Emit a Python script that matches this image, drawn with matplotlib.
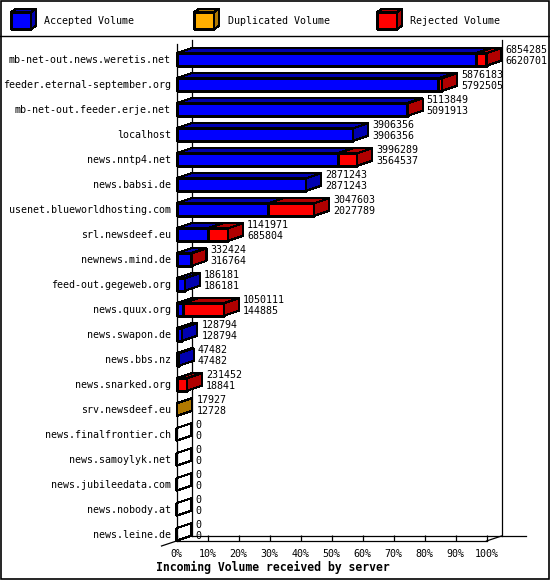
import matplotlib
matplotlib.use("Agg")
import matplotlib.pyplot as plt
from matplotlib.patches import Polygon, Rectangle

servers = ["mb-net-out.news.weretis.net", "feeder.eternal-september.org",
           "mb-net-out.feeder.erje.net", "localhost", "news.nntp4.net",
           "news.babsi.de", "usenet.blueworldhosting.com", "srl.newsdeef.eu",
           "newnews.mind.de", "feed-out.gegeweb.org", "news.quux.org",
           "news.swapon.de", "news.bbs.nz", "news.snarked.org", "srv.newsdeef.eu",
           "news.finalfrontier.ch", "news.samoylyk.net", "news.jubileedata.com",
           "news.nobody.at", "news.leine.de"]
total_vol = [6854285, 5876183, 5113849, 3906356, 3996289, 2871243, 3047603,
             1141971, 332424, 186181, 1050111, 128794, 47482, 231452, 17927,
             0, 0, 0, 0, 0]
accepted_vol = [6620701, 5792505, 5091913, 3906356, 3564537, 2871243, 2027789,
                685804, 316764, 186181, 144885, 128794, 47482, 18841, 12728,
                0, 0, 0, 0, 0]
duplicated_vol = [0, 0, 0, 0, 0, 0, 0, 0, 0, 0, 0, 0, 0, 0, 5199,
                  0, 0, 0, 0, 0]
rejected_vol = [233584, 83678, 21936, 0, 431752, 0, 1019814, 456167, 15660, 0,
                905226, 0, 0, 212611, 0, 0, 0, 0, 0, 0]
x_ticks = [0, 10, 20, 30, 40, 50, 60, 70, 80, 90, 100]
legend_names = ["Accepted Volume", "Duplicated Volume", "Rejected Volume"]

# front / shaded colours
blue = ("#0000ff", "#0000b0")
orange = ("#ffae00", "#b07800")
red = ("#ff0000", "#b00000")

MONO = "DejaVu Sans Mono"
W, H = 550, 580
fig = plt.figure(figsize=(W / 100, H / 100), dpi=100)
fig.patch.set_facecolor("white")

# overlay in pixel coords for frame + legend
ov = fig.add_axes([0, 0, 1, 1])
ov.set_xlim(0, W)
ov.set_ylim(H, 0)
ov.axis("off")
ov.add_patch(Rectangle((0.5, 0.5), W - 1.5, H - 1.5, fill=False, ec="black", lw=1.2))
ov.plot([0, W], [36, 36], color="black", lw=1.0)
for k, (nm, col) in enumerate(zip(legend_names, [blue, orange, red])):
    lx = 11 + 183 * k
    fx0, fx1, fy0, fy1 = lx, lx + 20, 12, 29
    ov.add_patch(Polygon([(fx0, fy0), (fx1, fy0), (fx1, fy1), (fx0, fy1)],
                         fc=col[0], ec="black", lw=0.8, antialiased=False))
    ov.add_patch(Polygon([(fx0, fy0), (fx0 + 5, fy0 - 3), (fx1 + 5, fy0 - 3), (fx1, fy0)],
                         fc=col[1], ec="black", lw=0.8, antialiased=False))
    ov.add_patch(Polygon([(fx1, fy0), (fx1 + 5, fy0 - 3), (fx1 + 5, fy1 - 3), (fx1, fy1)],
                         fc=col[1], ec="black", lw=0.8, antialiased=False))
    ov.text(lx + 33.5, 20.5, nm, fontsize=7.2, family=MONO, va="center", ha="left")

ov.text(156, 567, "Incoming Volume received by server", fontsize=8.3,
        family=MONO, fontweight="bold", va="center", ha="left")

# main plot (front plane)
left_px, width_px = 176.5, 310.0
top_px, bot_px = 44.0, 541.0
ax = fig.add_axes([left_px / W, (H - bot_px) / H, width_px / W, (bot_px - top_px) / H])
ax.patch.set_alpha(0)
n = len(servers)
row_px = 25.0
y_bot = (bot_px - 59.5) / row_px
y_top = y_bot - (bot_px - top_px) / row_px
ax.set_xlim(0, 100)
ax.set_ylim(y_bot, y_top)
px_x = width_px / 100.0
DX = 15 / px_x
DY = 5 / row_px
HB = 12.5 / row_px

for s in ["top", "right"]:
    ax.spines[s].set_visible(False)
for s in ["left", "bottom"]:
    ax.spines[s].set_linewidth(0.9)
ax.set_xticks(x_ticks, [f"{t}%" for t in x_ticks])
ax.tick_params(axis="x", direction="in", length=4, width=0.9, labelsize=7.2, pad=5.5)
ax.set_yticks(range(n), servers)
ax.tick_params(axis="y", length=0, labelsize=7.2, pad=4)
for lab in ax.get_xticklabels() + ax.get_yticklabels():
    lab.set_family(MONO)

# back walls / floor
wl = dict(color="black", lw=0.9, clip_on=False)
ax.plot([DX, DX], [y_top - DY + 0.04, y_bot - DY], **wl)
ax.plot([100 + DX, 100 + DX], [y_top - DY + 0.04, y_bot - DY], **wl)
ax.plot([DX, (526 - left_px) / px_x], [y_bot - DY, y_bot - DY], **wl)
ax.plot([100, 100 + DX], [y_bot, y_bot - DY], **wl)
ax.plot([-DX, DX], [y_bot + DY, y_bot - DY], **wl)

vmax = max(total_vol)
pk = dict(ec="black", lw=0.8, antialiased=False, clip_on=False, zorder=3)
for i in range(n):
    top, bot = i - HB / 2, i + HB / 2
    x0 = 0.0
    last = "none"
    for val, col in [(accepted_vol[i], blue), (duplicated_vol[i], orange), (rejected_vol[i], red)]:
        if val <= 0:
            continue
        x1 = x0 + val / vmax * 100
        ax.add_patch(Polygon([(x0, top), (x1, top), (x1, bot), (x0, bot)], fc=col[0], **pk))
        ax.add_patch(Polygon([(x0, top), (x1, top), (x1 + DX, top - DY), (x0 + DX, top - DY)],
                             fc=col[1], **pk))
        x0 = x1
        last = col[1]
    if last == "none":
        ax.add_patch(Polygon([(0, top), (DX, top - DY)], closed=False, fc="none", **pk))
    ax.add_patch(Polygon([(x0, top), (x0 + DX, top - DY), (x0 + DX, bot - DY), (x0, bot)],
                         fc=last, **pk))
    tx = x0 + DX + 4 / px_x
    ax.text(tx, i - 9 / row_px, str(total_vol[i]), fontsize=7.2, family=MONO,
            va="center", ha="left", clip_on=False)
    ax.text(tx, i + 2 / row_px, str(accepted_vol[i]), fontsize=7.2, family=MONO,
            va="center", ha="left", clip_on=False)

fig.savefig("out.png", dpi=100)
